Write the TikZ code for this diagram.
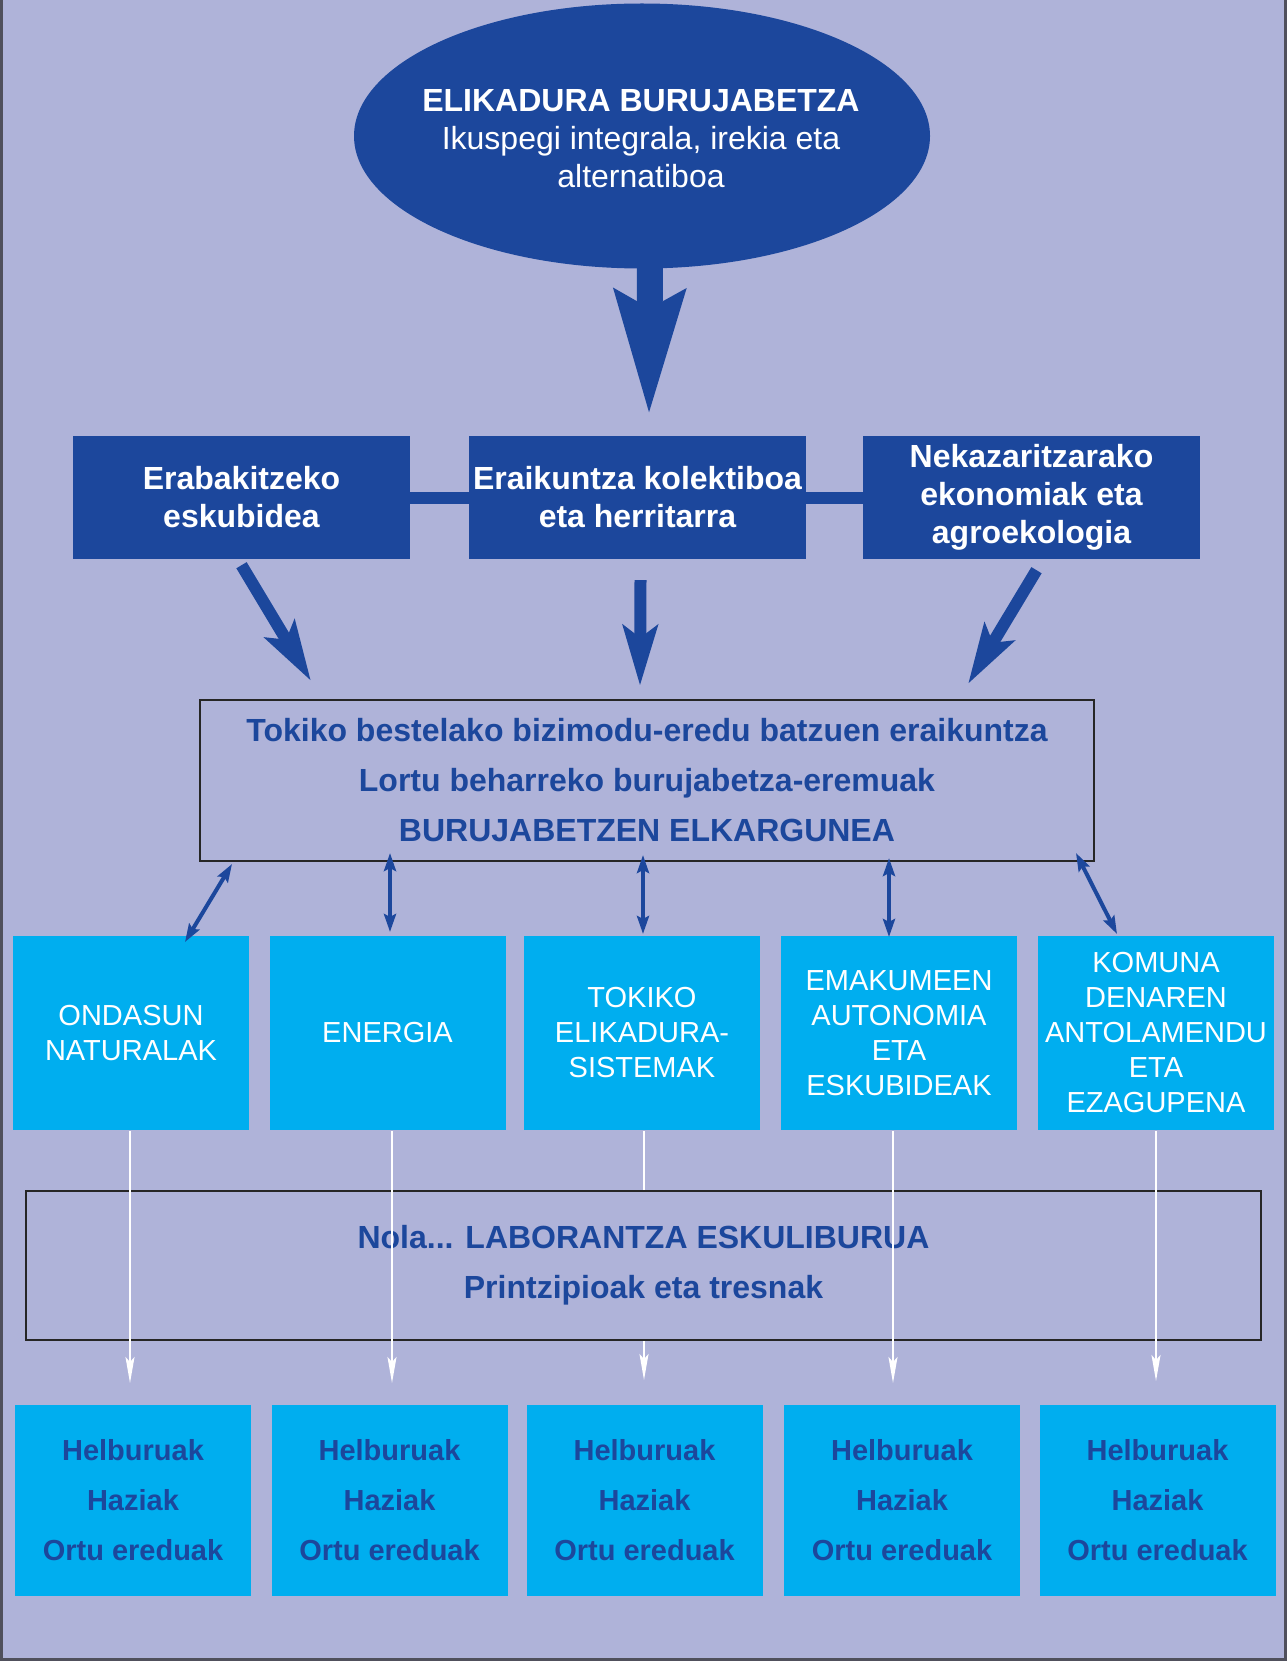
\documentclass[tikz,border=0pt]{standalone}
\usepackage{fontspec}
\setmainfont{Liberation Sans}
\usetikzlibrary{shapes.geometric,arrows.meta,calc}
\definecolor{bg}{HTML}{AFB3D9}
\definecolor{dblue}{HTML}{1C479C}
\definecolor{lblue}{HTML}{00AEEF}
\definecolor{framegray}{HTML}{50505C}
\begin{document}
\begin{tikzpicture}[x=1pt,y=-1pt,
  darkbox/.style={rectangle,fill=dblue,minimum width=337pt,minimum height=123pt,inner sep=0pt,
    text=white,font=\fontsize{32}{38}\selectfont\bfseries,align=center},
  outlinebox/.style={rectangle,draw=black!85,line width=2.5pt,inner sep=0pt,
    text=dblue,font=\fontsize{32}{50}\selectfont\bfseries,align=center},
  themebox/.style={rectangle,fill=lblue,minimum width=236pt,minimum height=194pt,inner sep=0pt,
    text=white,font=\fontsize{29}{35}\selectfont,align=center},
  goalbox/.style={rectangle,fill=lblue,minimum width=236pt,minimum height=191pt,inner sep=0pt,
    text=dblue,font=\fontsize{29}{50}\selectfont\bfseries,align=center},
  fatarrow/.style={draw=dblue,fill=dblue,line width=12pt,-{Stealth[length=60pt,width=34pt,inset=12pt]}},
  dblarrow/.style={draw=dblue,fill=dblue,line width=4pt,{Stealth[length=18pt,width=12pt,inset=3pt]}-{Stealth[length=18pt,width=12pt,inset=3pt]}},
  whitearrow/.style={draw=white,fill=white,line width=2pt,-{Stealth[length=26pt,width=9pt,inset=5pt]}},
  whiteline/.style={draw=white,line width=2pt},
  link/.style={draw=dblue,line width=12pt}
]
% background and frame
\fill[bg] (0,0) rectangle (1287,1661);
\useasboundingbox (0,0) rectangle (1287,1661);
\draw[framegray,line width=3pt] (1.5,0) -- (1.5,1659.5) -- (1285.5,1659.5) -- (1285.5,0);

% top ellipse
\node[ellipse,fill=dblue,minimum width=576pt,minimum height=265pt,inner sep=0pt] (ell) at (642,136) {};
\node[text=white,align=center,inner sep=0pt,font=\fontsize{32}{38}\selectfont] (elltext) at (641,139)
  {\textbf{ELIKADURA BURUJABETZA}\\Ikuspegi integrala, irekia eta\\alternatiboa};

% three dark boxes
\node[darkbox] (box1) at (241.5,497.5) {Erabakitzeko\\eskubidea};
\node[darkbox] (box2) at (637.5,497.5) {Eraikuntza kolektiboa\\eta herritarra};
\node[darkbox] (box3) at (1031.5,497.5) {Nekazaritzarako\\ekonomiak eta\\agroekologia};
\draw[link] (box1.east) -- (box2.west);
\draw[link] (box2.east) -- (box3.west);

% big arrow
\coordinate (bigtip) at (649,416);
\draw[draw=dblue,fill=dblue,line width=26pt,-{Stealth[length=123pt,width=67pt,inset=16pt]}]
  ($(ell.south)+(8,-8)$) -- (bigtip);

% middle box
\node[outlinebox,minimum width=894pt,minimum height=161pt] (mid) at (647,780.5)
  {Tokiko bestelako bizimodu-eredu batzuen eraikuntza\\Lortu beharreko burujabetza-eremuak\\BURUJABETZEN ELKARGUNEA};

% fat arrows to middle box
\coordinate (t1) at (311,681);
\coordinate (t2) at (640,686);
\coordinate (t3) at (968,684);
\draw[fatarrow] ($(box1.south)+(0,6)$) -- (t1);
\draw[fatarrow] ($(box2.south)+(3,21)$) -- (t2);
\draw[fatarrow] ($(box3.south)+(5,11)$) -- (t3);

% theme boxes
\node[themebox] (b1) at (131,1033) {ONDASUN\\NATURALAK};
\node[themebox] (b2) at (387.5,1033) {ENERGIA};
\node[themebox] (b3) at (642,1033) {TOKIKO\\ELIKADURA-\\SISTEMAK};
\node[themebox] (b4) at (899,1033) {EMAKUMEEN\\AUTONOMIA\\ETA\\ESKUBIDEAK};
\node[themebox] (b5) at (1156,1033) {KOMUNA\\DENAREN\\ANTOLAMENDU\\ETA\\EZAGUPENA};

% double arrows
\coordinate (d1a) at (232,864);
\coordinate (d1b) at (185,942);
\coordinate (d2a) at (390,853);
\coordinate (d2b) at (390,932);
\coordinate (d3a) at (643,855);
\coordinate (d3b) at (643,934);
\coordinate (d4a) at (889,858);
\coordinate (d4b) at (889,937);
\coordinate (d5a) at (1076,853);
\coordinate (d5b) at (1117,934);
\draw[dblarrow] (d1a) -- (d1b);
\draw[dblarrow] (d2a) -- (d2b);
\draw[dblarrow] (d3a) -- (d3b);
\draw[dblarrow] (d4a) -- (d4b);
\draw[dblarrow] (d5a) -- (d5b);

% bottom outlined box
\node[outlinebox,minimum width=1235pt,minimum height=149pt] (how) at (643.5,1265.5)
  {Nola... LABORANTZA ESKULIBURUA\\Printzipioak eta tresnak};

% goal boxes
\node[goalbox] (g1) at (133,1500.5) {Helburuak\\Haziak\\Ortu ereduak};
\node[goalbox] (g2) at (389.5,1500.5) {Helburuak\\Haziak\\Ortu ereduak};
\node[goalbox] (g3) at (644.5,1500.5) {Helburuak\\Haziak\\Ortu ereduak};
\node[goalbox] (g4) at (902,1500.5) {Helburuak\\Haziak\\Ortu ereduak};
\node[goalbox] (g5) at (1157.5,1500.5) {Helburuak\\Haziak\\Ortu ereduak};

% white arrows
\coordinate (w1a) at (130,1131);  \coordinate (w1b) at (130,1383);
\coordinate (w2a) at (392,1131);  \coordinate (w2b) at (392,1383);
\coordinate (w3a) at (644,1131);  \coordinate (w3m) at (644,1190);
\coordinate (w3n) at (644,1341);  \coordinate (w3b) at (644,1380);
\coordinate (w4a) at (893,1131);  \coordinate (w4b) at (893,1383);
\coordinate (w5a) at (1156,1131); \coordinate (w5b) at (1156,1381);
\draw[whitearrow] (w1a) -- (w1b);
\draw[whitearrow] (w2a) -- (w2b);
\draw[whiteline] (w3a) -- (w3m);
\draw[whitearrow] (w3n) -- (w3b);
\draw[whitearrow] (w4a) -- (w4b);
\draw[whitearrow] (w5a) -- (w5b);
\end{tikzpicture}
\end{document}
